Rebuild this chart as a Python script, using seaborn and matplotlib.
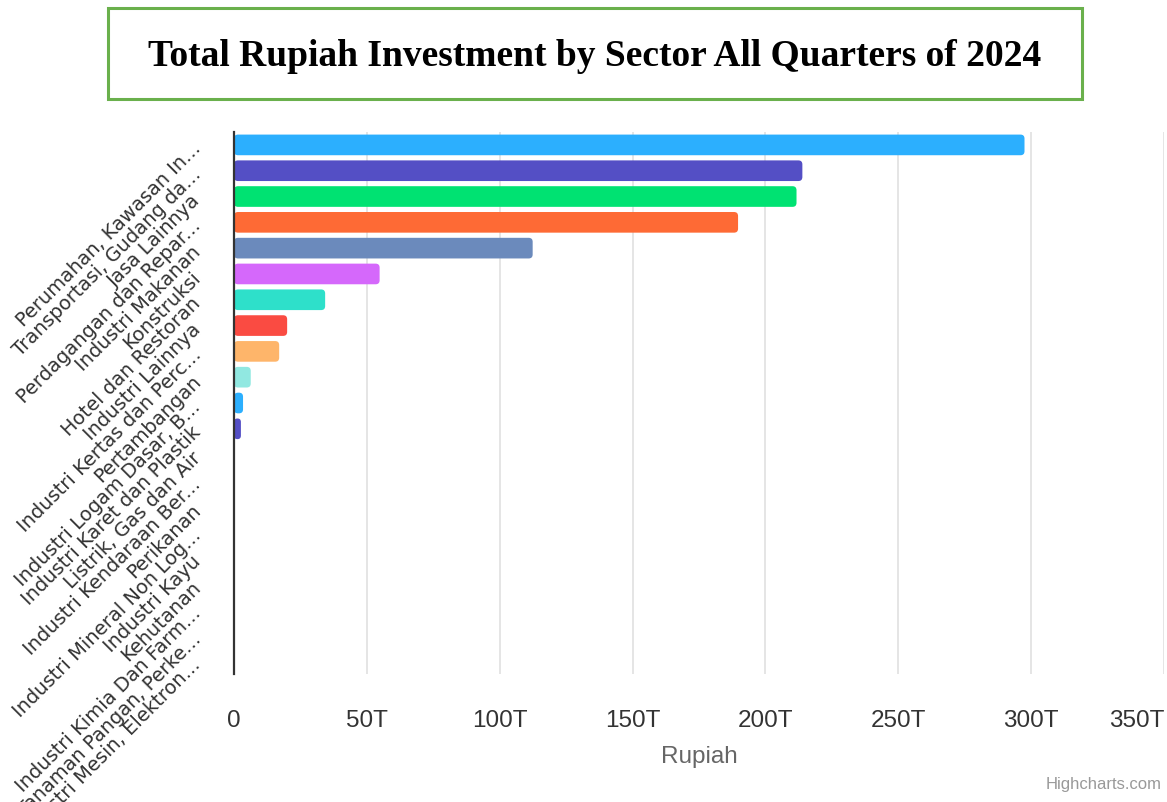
import matplotlib
matplotlib.use("Agg")
import matplotlib.pyplot as plt
import seaborn as sns
import pandas as pd
from matplotlib.patches import Rectangle, FancyBboxPatch

sectors = [
    "Perumahan, Kawasan In...",
    "Transportasi, Gudang da...",
    "Jasa Lainnya",
    "Perdagangan dan Repar...",
    "Industri Makanan",
    "Konstruksi",
    "Hotel dan Restoran",
    "Industri Lainnya",
    "Industri Kertas dan Perc...",
    "Pertambangan",
    "Industri Logam Dasar, B...",
    "Industri Karet dan Plastik",
    "Listrik, Gas dan Air",
    "Industri Kendaraan Ber...",
    "Perikanan",
    "Industri Mineral Non Log...",
    "Industri Kayu",
    "Kehutanan",
    "Industri Kimia Dan Farm...",
    "Tanaman Pangan, Perke...",
    "Industri Mesin, Elektron...",
]
# values in trillions of Rupiah
values_T = [297.5, 213.9, 211.7, 189.7, 112.4, 54.8, 34.3, 20.0, 17.0, 6.3,
            3.4, 2.6, 0.1, 0.08, 0.06, 0.05, 0.04, 0.03, 0.02, 0.01, 0.01]

palette = ["#2caffe", "#544fc5", "#00e272", "#fe6a35", "#6b8abc",
           "#d568fb", "#2ee0ca", "#fa4b42", "#feb56a", "#91e8e1"]
colors = [palette[i % len(palette)] for i in range(len(sectors))]

xticks = [0, 50, 100, 150, 200, 250, 300, 350]
xtick_labels = ["0", "50T", "100T", "150T", "200T", "250T", "300T", "350T"]

sns.set_style("white")
df = pd.DataFrame({"sector": sectors, "value": values_T})

W, H = 1167, 803
left_px, right_px, top_px, bot_px = 234, 1164, 133, 675
fig = plt.figure(figsize=(W/100, H/100), dpi=100)
ax = fig.add_axes([left_px/W, 1-bot_px/H, (right_px-left_px)/W, (bot_px-top_px)/H])

sns.barplot(data=df, y="sector", x="value", hue="sector", palette=colors,
            legend=False, orient="h", width=0.8, ax=ax, saturation=1)

# round the bar corners
x_per_px = 350 / (right_px - left_px)
y_per_px = len(sectors) / (bot_px - top_px)
for p in list(ax.patches):
    x0, y0 = p.get_x(), p.get_y()
    w, h = p.get_width(), p.get_height()
    fc = p.get_facecolor()
    p.remove()
    r = min(4 * x_per_px, w / 2)
    fb = FancyBboxPatch((x0, y0), w, h,
                        boxstyle=f"round,pad=0,rounding_size={r}",
                        mutation_aspect=y_per_px / x_per_px,
                        facecolor=fc, edgecolor="none", zorder=3)
    ax.add_patch(fb)

ax.set_xlim(0, 350)
ax.set_ylim(len(sectors) - 0.5, -0.5)
ax.set_xticks(xticks)
ax.set_xticklabels(xtick_labels, fontsize=17.5, color="#333333",
                   family="Liberation Sans")
ax.get_xticklabels()[-1].set_ha("right")
ax.xaxis.grid(True, color="#e3e3e3", linewidth=1.3, zorder=0)
ax.set_axisbelow(True)
ax.tick_params(axis="x", length=0, pad=25)
ax.tick_params(axis="y", length=0, pad=26)
for lbl in ax.get_yticklabels():
    lbl.set_rotation(45)
    lbl.set_rotation_mode("anchor")
    lbl.set_ha("right")
    lbl.set_va("center")
    lbl.set_fontsize(14)
    lbl.set_color("#333333")
    lbl.set_family("DejaVu Sans")

ax.set_ylabel("")
ax.set_xlabel("Rupiah", fontsize=17.5, color="#666666", family="Liberation Sans",
              labelpad=10)

for s in ["top", "right", "bottom"]:
    ax.spines[s].set_visible(False)
ax.spines["left"].set_color("#333333")
ax.spines["left"].set_linewidth(1.6)
ax.spines["left"].set_zorder(6)

# title box
fig.patches.append(Rectangle((108/W, 1-100/H), (1082-108)/W, (100-9)/H,
                             transform=fig.transFigure, fill=False,
                             edgecolor="#6ab04c", linewidth=2.2))
fig.text(595/W, 1-57/H, "Total Rupiah Investment by Sector All Quarters of 2024",
         ha="center", va="center", fontsize=27, fontweight="bold",
         family="Liberation Serif", color="black")

fig.text(1162/W, 1-785/H, "Highcharts.com", ha="right", va="center",
         fontsize=12, color="#999999", family="Liberation Sans")

fig.savefig("out.png", dpi=100)
